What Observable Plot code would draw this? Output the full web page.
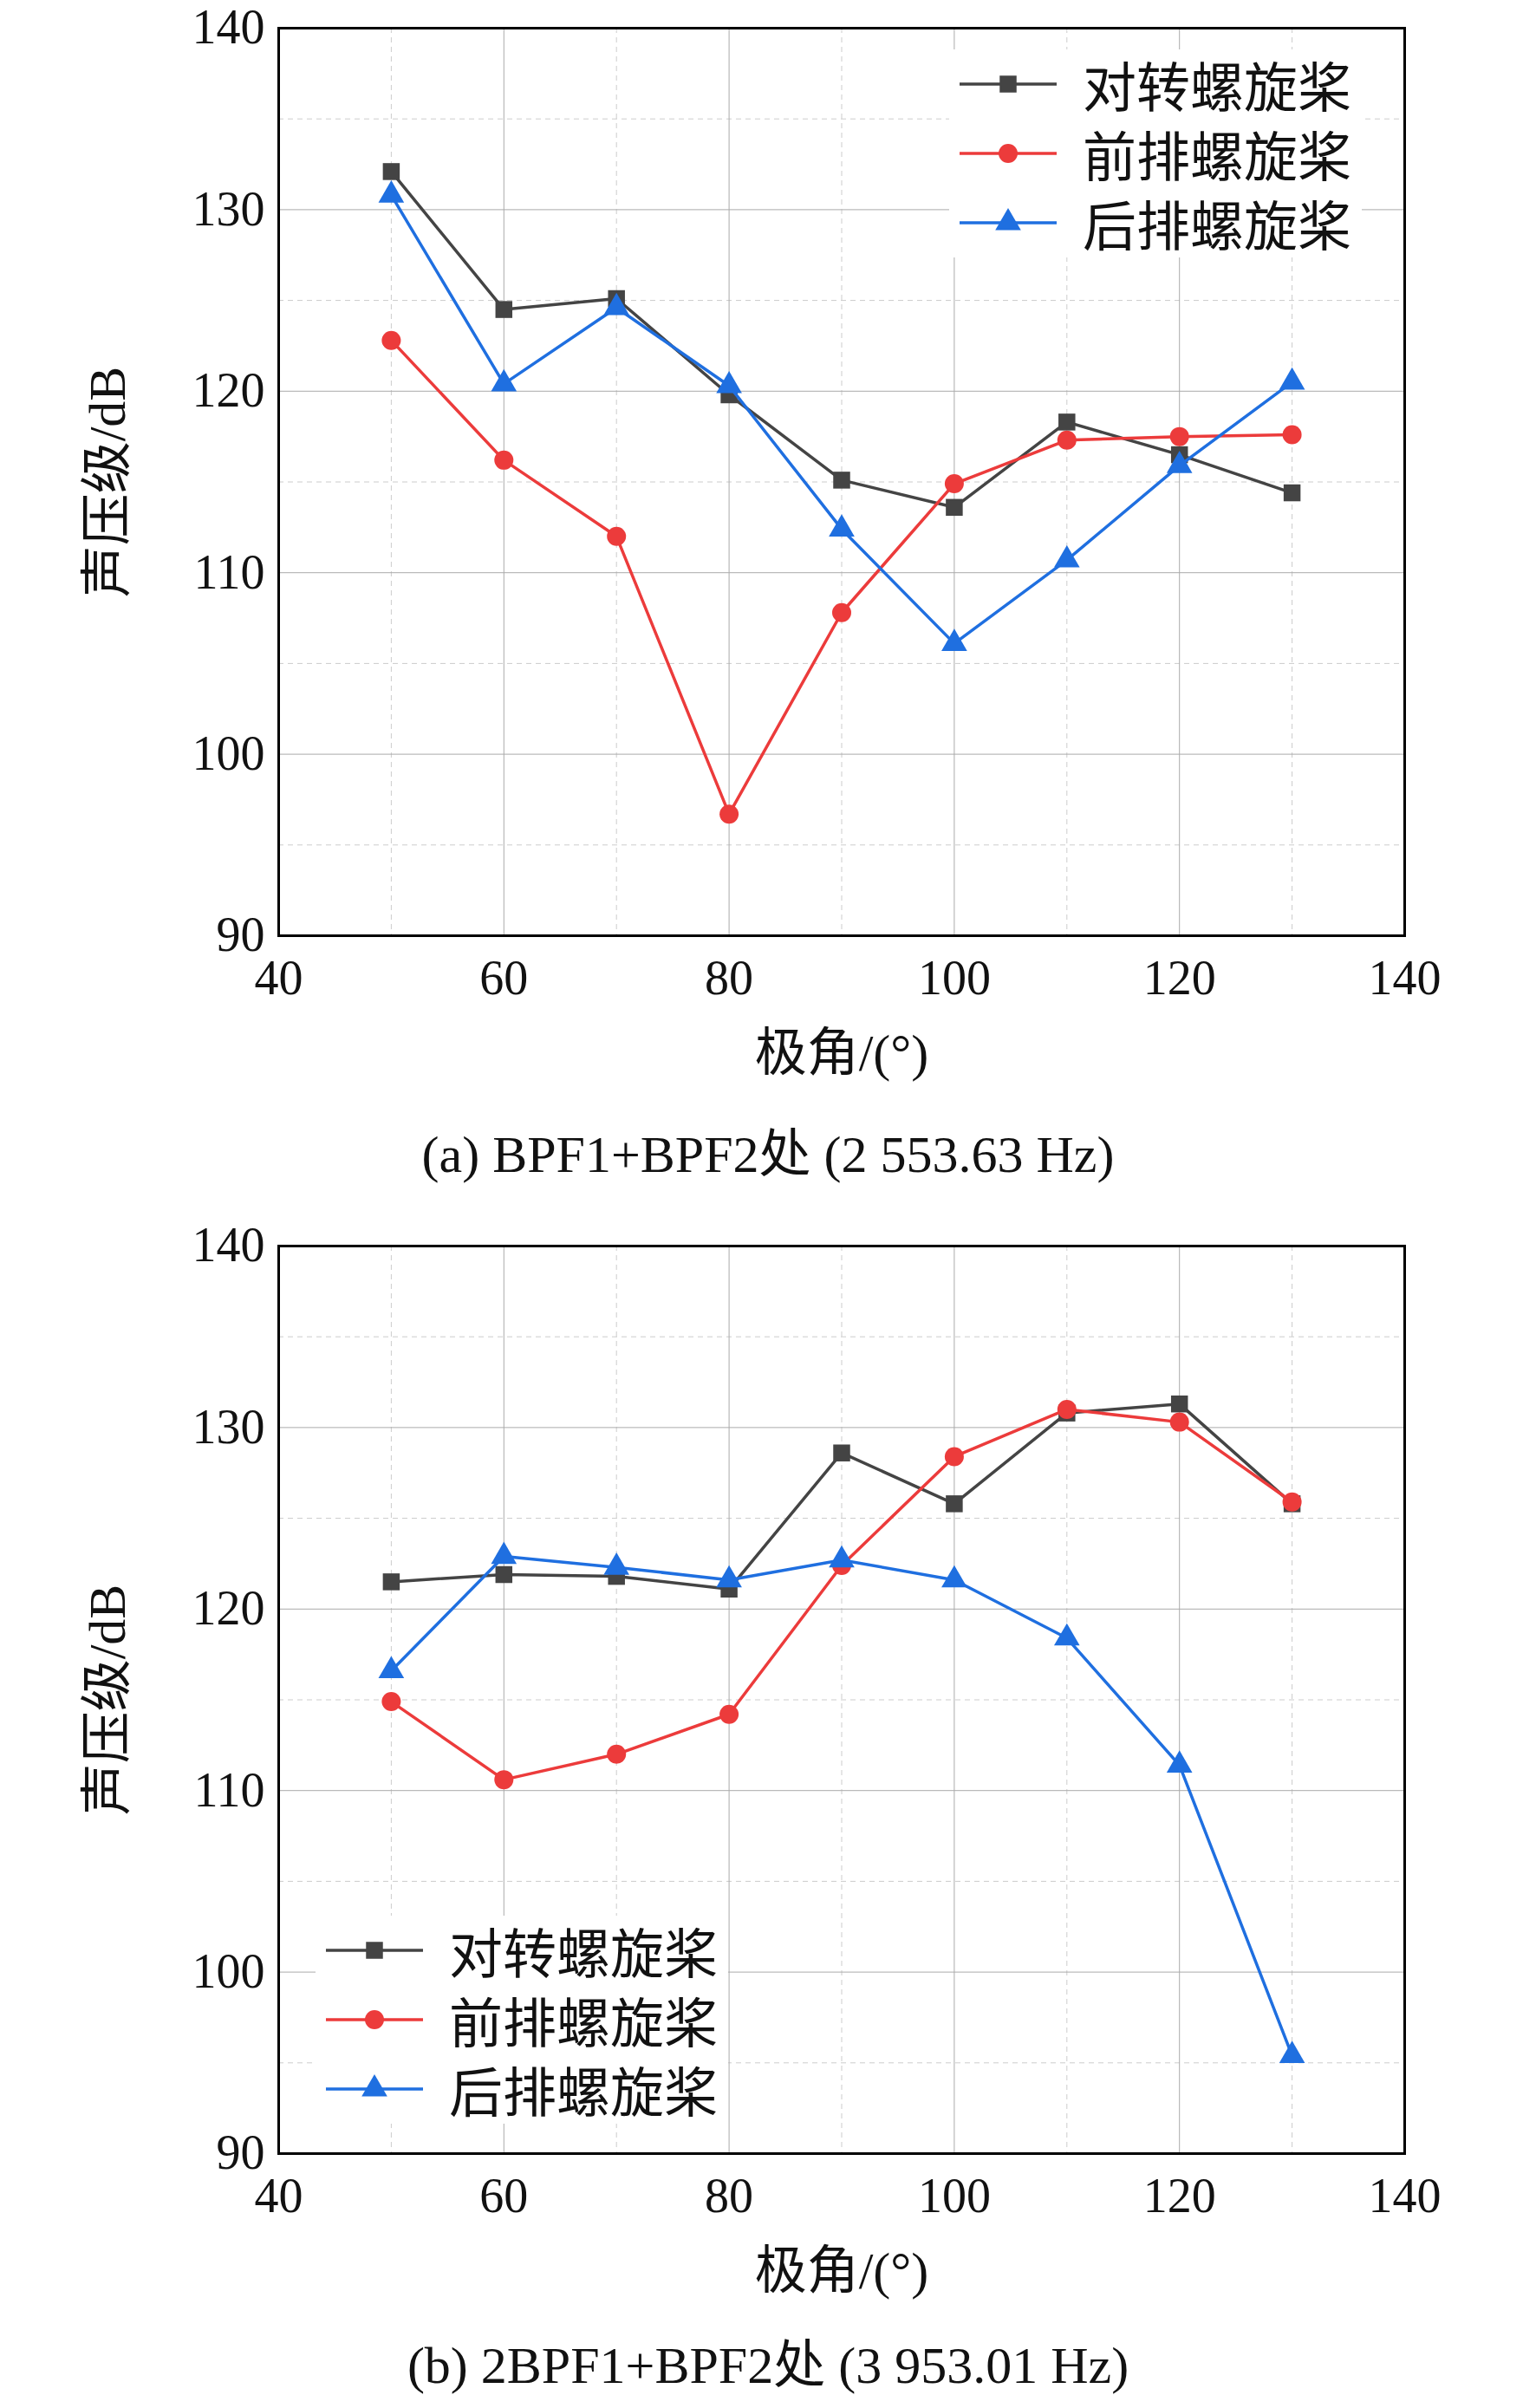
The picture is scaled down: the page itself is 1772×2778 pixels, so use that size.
<!DOCTYPE html>
<html><head><meta charset="utf-8">
<script src="https://cdn.jsdelivr.net/npm/d3@7"></script>
<script src="https://cdn.jsdelivr.net/npm/@observablehq/plot@0.6"></script>
<style>
body{margin:0;background:#fff;width:1772px;font-family:"Liberation Serif","Noto Sans CJK SC",serif;}
.panel{position:relative;width:1772px;height:1260px;}
.cap{height:145px;text-align:center;font-size:60px;line-height:145px;color:#111;}
.legend{position:absolute;background:#fff;font-size:62px;color:#111;}
.row{display:flex;align-items:center;height:80px;}
.row svg{margin-right:30px;}
</style></head><body>
<div id="a" class="panel"></div>
<div class="cap">(a) BPF1+BPF2处 (2 553.63 Hz)</div>
<div id="b" class="panel"></div>
<div class="cap" style="height:128px;line-height:128px">(b) 2BPF1+BPF2处 (3 953.01 Hz)</div>
<script>
const angles=[50,60,70,80,90,100,110,120,130];
const seriesNames=["对转螺旋桨","前排螺旋桨","后排螺旋桨"];
const colors=["#444444","#ec3b3b","#1f6fe0"];
const symbols=["square","circle","triangle"];
const a_ct=[132.1,124.5,125.1,119.8,115.1,113.6,118.3,116.5,114.4];
const a_front=[122.8,116.2,112.0,96.7,107.8,114.9,117.3,117.5,117.6];
const a_rear=[130.8,120.4,124.6,120.3,112.4,106.1,110.7,115.9,120.5];
const b_ct=[121.5,121.9,121.8,121.1,128.6,125.8,130.8,131.3,125.8];
const b_front=[114.9,110.6,112.0,114.2,122.4,128.4,131.0,130.3,125.9];
const b_rear=[116.6,122.9,122.3,121.6,122.7,121.6,118.4,111.4,95.4];
const xTicks=[40,60,80,100,120,140], yTicks=[90,100,110,120,130,140];

function draw(id,sets,legendPos){
  const data=[];
  sets.forEach((vals,si)=>vals.forEach((v,i)=>data.push({x:angles[i],y:v,s:seriesNames[si]})));
  const marks=[
    Plot.gridX(d3.range(50,140,20),{stroke:"#ccc",strokeDasharray:"6,5",strokeOpacity:1}),
    Plot.gridY(d3.range(95,140,10),{stroke:"#ccc",strokeDasharray:"6,5",strokeOpacity:1}),
    Plot.gridX([60,80,100,120],{stroke:"#aaa",strokeOpacity:1}),
    Plot.gridY([100,110,120,130],{stroke:"#aaa",strokeOpacity:1}),
    Plot.frame({stroke:"#000",strokeWidth:3}),
  ];
  seriesNames.forEach((n,si)=>{
    const d=data.filter(e=>e.s===n);
    marks.push(Plot.line(d,{x:"x",y:"y",stroke:colors[si],strokeWidth:3.5}));
    marks.push(Plot.dot(d,{x:"x",y:"y",fill:colors[si],symbol:()=>symbols[si],r:11}));
  });
  const p=Plot.plot({width:1772,height:1260,marginTop:32,marginBottom:181,marginLeft:321,marginRight:152,
    style:{fontFamily:'"Liberation Serif","Noto Sans CJK SC",serif',fontSize:"56px",color:"#111"},
    x:{domain:[40,140],ticks:xTicks,tickSize:0,tickPadding:28,label:"极角/(°)",labelArrow:"none",labelAnchor:"center",labelOffset:155},
    y:{domain:[90,140],ticks:yTicks,tickSize:0,tickPadding:16,label:"声压级/dB",labelArrow:"none",labelAnchor:"center",labelOffset:220},
    marks});
  p.querySelectorAll("text").forEach(t=>{
    t.style.fontFamily='"Liberation Serif","Noto Sans CJK SC",serif';
    t.style.fontSize=/极角|声压/.test(t.textContent)?"60px":"56px";
  });
  p.querySelectorAll("g[aria-label$='axis tick label'], g[aria-label*='tick label']").forEach(g=>{g.setAttribute("font-size","56");});
  const el=document.getElementById(id); el.appendChild(p);
  const lg=document.createElement("div"); lg.className="legend";
  lg.style.left=legendPos[0]+"px"; lg.style.top=legendPos[1]+"px"; lg.style.padding="0 12px";
  seriesNames.forEach((n,si)=>{
    const sym=d3.symbol(si===0?d3.symbolSquare:si===1?d3.symbolCircle:d3.symbolTriangle,380)();
    lg.insertAdjacentHTML("beforeend",`<div class="row"><svg width="112" height="40"><line x1="0" x2="112" y1="20" y2="20" stroke="${colors[si]}" stroke-width="3.5"/><path d="${sym}" transform="translate(56,20)" fill="${colors[si]}"/></svg><span>${n}</span></div>`);
  });
  el.appendChild(lg);
}
draw("a",[a_ct,a_front,a_rear],[1095,57]);
draw("b",[b_ct,b_front,b_rear],[364,805]);
</script></body></html>
